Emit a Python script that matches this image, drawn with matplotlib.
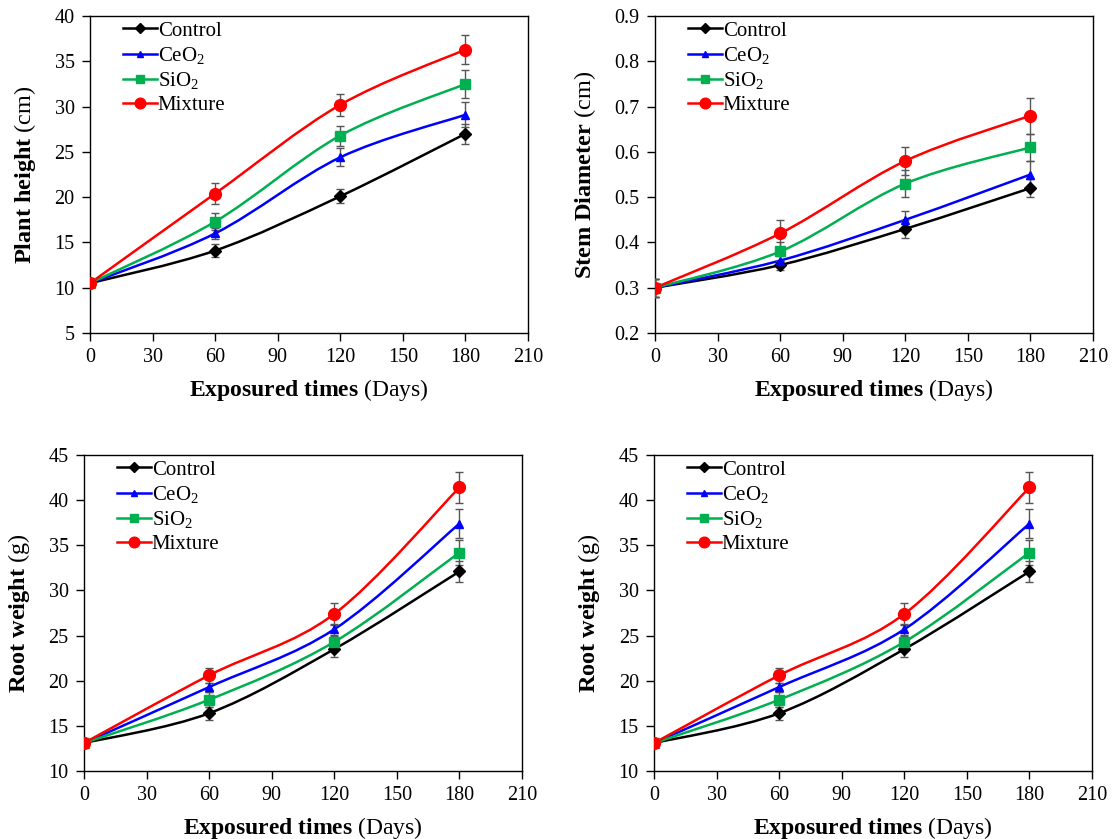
import matplotlib
matplotlib.use('Agg')
import matplotlib.pyplot as plt
from matplotlib.path import Path
from matplotlib.patches import PathPatch
from matplotlib.lines import Line2D

plt.rcParams['font.family'] = ['Liberation Serif', 'DejaVu Serif']
plt.rcParams['mathtext.fontset'] = 'custom'
plt.rcParams['mathtext.rm'] = 'Liberation Serif'
plt.rcParams['mathtext.it'] = 'Liberation Serif:italic'
plt.rcParams['mathtext.bf'] = 'Liberation Serif:bold'

days = [0, 60, 120, 180]
treatments = ['Control', 'CeO$_2$', 'SiO$_2$', 'Mixture']

# plant height (cm)
height = {
    'Control': [10.5, 14.1, 20.1, 27.0],
    'CeO$_2$': [10.5, 16.0, 24.4, 29.1],
    'SiO$_2$': [10.5, 17.3, 26.8, 32.5],
    'Mixture': [10.5, 20.4, 30.2, 36.3],
}
height_err = {
    'Control': [0.3, 0.7, 0.8, 1.1],
    'CeO$_2$': [0.3, 0.6, 1.0, 1.4],
    'SiO$_2$': [0.3, 0.9, 1.1, 1.5],
    'Mixture': [0.3, 1.2, 1.2, 1.6],
}

# stem diameter (cm)
diameter = {
    'Control': [0.30, 0.35, 0.43, 0.52],
    'CeO$_2$': [0.30, 0.36, 0.45, 0.55],
    'SiO$_2$': [0.30, 0.38, 0.53, 0.61],
    'Mixture': [0.30, 0.42, 0.58, 0.68],
}
diameter_err = {
    'Control': [0.02, 0.01, 0.02, 0.02],
    'CeO$_2$': [0.02, 0.01, 0.02, 0.03],
    'SiO$_2$': [0.02, 0.02, 0.03, 0.03],
    'Mixture': [0.02, 0.03, 0.03, 0.04],
}

# root weight (g)
root = {
    'Control': [13.1, 16.4, 23.5, 32.1],
    'CeO$_2$': [13.1, 19.3, 25.7, 37.4],
    'SiO$_2$': [13.1, 17.9, 24.3, 34.2],
    'Mixture': [13.1, 20.6, 27.4, 41.4],
}
root_err = {
    'Control': [0.3, 0.7, 0.9, 1.2],
    'CeO$_2$': [0.3, 0.5, 0.6, 1.6],
    'SiO$_2$': [0.3, 0.8, 0.6, 1.4],
    'Mixture': [0.3, 0.8, 1.2, 1.7],
}

styles = {
    'Control': dict(color='black', marker='D', ms=6),
    'CeO$_2$': dict(color='#0000FF', marker='^', ms=5.5),
    'SiO$_2$': dict(color='#00B050', marker='s', ms=7),
    'Mixture': dict(color='#FF0000', marker='o', ms=8.5),
}


def smooth_path(x, y):
    # Excel-style smoothed line (cubic Bezier through the points)
    pts = list(zip(x, y))
    n = len(pts)
    verts = [pts[0]]
    codes = [Path.MOVETO]
    for i in range(n - 1):
        p0 = pts[max(i - 1, 0)]
        p1 = pts[i]
        p2 = pts[i + 1]
        p3 = pts[min(i + 2, n - 1)]
        c1 = (p1[0] + (p2[0] - p0[0]) / 6, p1[1] + (p2[1] - p0[1]) / 6)
        c2 = (p2[0] - (p3[0] - p1[0]) / 6, p2[1] - (p3[1] - p1[1]) / 6)
        verts += [c1, c2, p2]
        codes += [Path.CURVE4] * 3
    return Path(verts, codes)


def panel(ax, data, err, ylabel, ylim, yticks):
    for t in treatments:
        st = styles[t]
        ax.add_patch(PathPatch(smooth_path(days, data[t]), fill=False,
                               edgecolor=st['color'], lw=1.8, zorder=2))
        ax.errorbar(days, data[t], yerr=err[t], fmt='none', ecolor='#555555',
                    elinewidth=1, capsize=3, capthick=1, zorder=3)
        ax.plot(days, data[t], linestyle='none', marker=st['marker'],
                color=st['color'], ms=st['ms'], zorder=4)
    handles = [Line2D([], [], color=styles[t]['color'], lw=1.8,
                      marker=styles[t]['marker'], ms=styles[t]['ms'] * 0.9)
               for t in treatments]
    ax.legend(handles, treatments, loc='upper left', frameon=False,
              fontsize=15, handlelength=1.6, handletextpad=0.05,
              labelspacing=0.2, borderaxespad=0,
              bbox_to_anchor=(0.057, 1.01))
    ax.set_xlim(0, 210)
    ax.set_xticks(range(0, 211, 30))
    ax.set_ylim(*ylim)
    ax.set_yticks(yticks)
    ax.tick_params(direction='out', length=6, labelsize=14.5, width=1,
                   pad=5)
    for s in ax.spines.values():
        s.set_linewidth(1)
    ax.set_xlabel(r'$\mathbf{Exposured\ times}$ (Days)', fontsize=17,
                  labelpad=7)
    ax.set_ylabel(ylabel, fontsize=17.5, labelpad=12)


fig = plt.figure(figsize=(11.18, 8.39), dpi=100)
ax1 = fig.add_axes([0.0805, 0.6031, 0.3918, 0.3778])
ax2 = fig.add_axes([0.5859, 0.6031, 0.3918, 0.3778])
ax3 = fig.add_axes([0.0751, 0.0810, 0.3918, 0.3767])
ax4 = fig.add_axes([0.5850, 0.0810, 0.3918, 0.3767])

panel(ax1, height, height_err, r'$\mathbf{Plant\ height}$ (cm)',
      (5, 40), range(5, 41, 5))
panel(ax2, diameter, diameter_err, r'$\mathbf{Stem\ Diameter}$ (cm)',
      (0.2, 0.9), [0.2, 0.3, 0.4, 0.5, 0.6, 0.7, 0.8, 0.9])
panel(ax3, root, root_err, r'$\mathbf{Root\ weight}$ (g)',
      (10, 45), range(10, 46, 5))
panel(ax4, root, root_err, r'$\mathbf{Root\ weight}$ (g)',
      (10, 45), range(10, 46, 5))

fig.savefig('out.png', dpi=100)
